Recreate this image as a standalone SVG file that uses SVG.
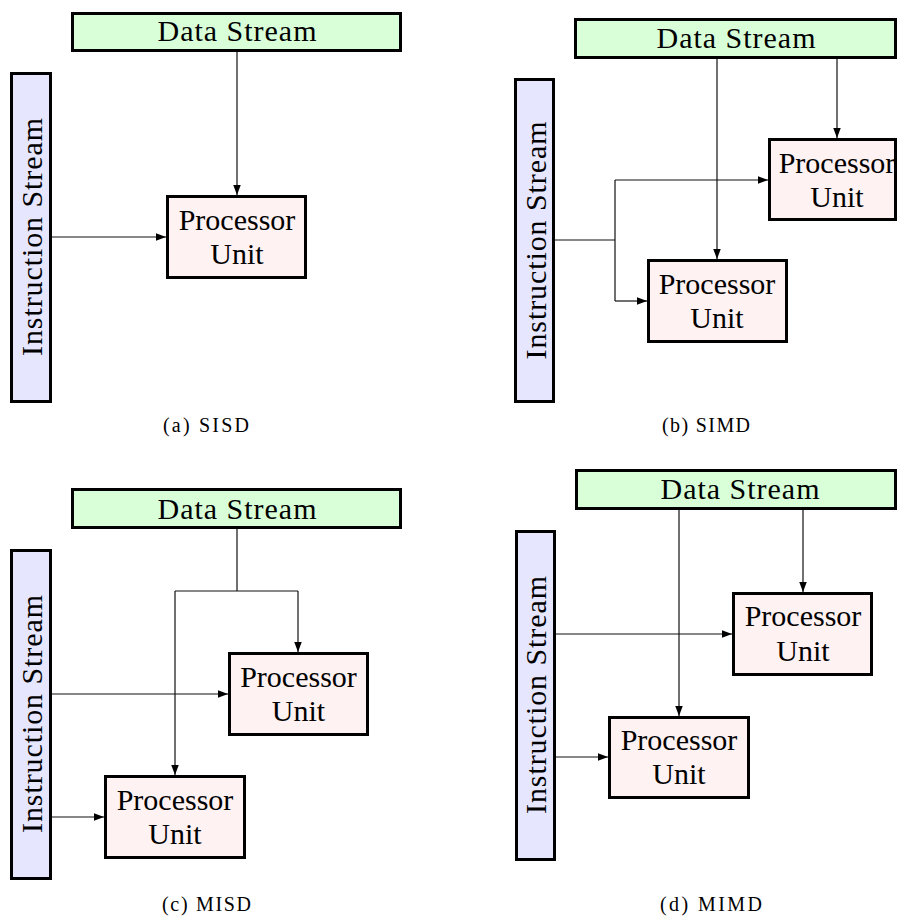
<svg xmlns="http://www.w3.org/2000/svg" width="897" height="918" viewBox="0 0 897 918">
<style>
text{font-family:"Liberation Serif","Times New Roman",serif;fill:#000}
.lbl{font-size:30px;text-anchor:middle}
.cap{font-size:20px;text-anchor:middle}
.data{fill:#d9ffd9;stroke:#000;stroke-width:3}
.instr{fill:#e6e6ff;stroke:#000;stroke-width:3}
.pu{fill:#fff2f2;stroke:#000;stroke-width:3}
.ln{fill:none;stroke:#111;stroke-width:1.2}
.ar{fill:none;stroke:#111;stroke-width:1.2;marker-end:url(#ah)}
</style>
<defs>
<marker id="ah" markerUnits="userSpaceOnUse" markerWidth="11" markerHeight="8" refX="10" refY="3.75" orient="auto">
<path d="M0,0 L10,3.75 L0,7.5 z" fill="#000"/>
</marker>
</defs>
<rect width="897" height="918" fill="#fff"/>

<!-- (a) SISD -->
<g id="a-data"><rect class="data" x="72.5" y="13.5" width="328" height="37"/><text class="lbl" x="237" y="41" textLength="159">Data Stream</text></g>
<g id="a-instr"><rect class="instr" x="11.5" y="73.5" width="39" height="328"/><text class="lbl" transform="translate(42,237) rotate(-90)" textLength="238">Instruction Stream</text></g>
<g id="a-pu"><rect class="pu" x="167.5" y="196.5" width="138" height="81"/><text class="lbl" x="237" y="230">Processor</text><text class="lbl" x="237" y="264">Unit</text></g>
<text id="a-cap" class="cap" x="206" y="432" textLength="86">(a) SISD</text>

<!-- (b) SIMD -->
<g id="b-data"><rect class="data" x="575.5" y="19.5" width="320" height="38"/><text class="lbl" x="736" y="48" textLength="159">Data Stream</text></g>
<g id="b-instr"><rect class="instr" x="515.5" y="79.5" width="38" height="322"/><text class="lbl" transform="translate(546,240.5) rotate(-90)" textLength="238">Instruction Stream</text></g>
<g id="b-pu1"><rect class="pu" x="769.5" y="139.5" width="126" height="80"/><text class="lbl" x="837" y="173">Processor</text><text class="lbl" x="837" y="207">Unit</text></g>
<g id="b-pu2"><rect class="pu" x="648.5" y="260.5" width="138" height="81"/><text class="lbl" x="717" y="294">Processor</text><text class="lbl" x="717" y="328">Unit</text></g>
<text id="b-cap" class="cap" x="706" y="432" textLength="88">(b) SIMD</text>

<!-- (c) MISD -->
<g id="c-data"><rect class="data" x="72.5" y="489.5" width="328" height="38"/><text class="lbl" x="237" y="519" textLength="159">Data Stream</text></g>
<g id="c-instr"><rect class="instr" x="11.5" y="550.5" width="39" height="328"/><text class="lbl" transform="translate(42,714) rotate(-90)" textLength="238">Instruction Stream</text></g>
<g id="c-pu1"><rect class="pu" x="229.5" y="653.5" width="138" height="81"/><text class="lbl" x="298.5" y="687">Processor</text><text class="lbl" x="298.5" y="721">Unit</text></g>
<g id="c-pu2"><rect class="pu" x="105.5" y="776.5" width="139" height="81"/><text class="lbl" x="175" y="810">Processor</text><text class="lbl" x="175" y="844">Unit</text></g>
<text id="c-cap" class="cap" x="206.5" y="911" textLength="89">(c) MISD</text>

<!-- (d) MIMD -->
<g id="d-data"><rect class="data" x="576.5" y="470.5" width="319" height="38"/><text class="lbl" x="740" y="499" textLength="159">Data Stream</text></g>
<g id="d-instr"><rect class="instr" x="516.5" y="531.5" width="38" height="328"/><text class="lbl" transform="translate(546,695) rotate(-90)" textLength="238">Instruction Stream</text></g>
<g id="d-pu1"><rect class="pu" x="733.5" y="593.5" width="138" height="81"/><text class="lbl" x="803" y="626">Processor</text><text class="lbl" x="803" y="661">Unit</text></g>
<g id="d-pu2"><rect class="pu" x="609.5" y="717.5" width="139" height="80"/><text class="lbl" x="679" y="750">Processor</text><text class="lbl" x="679" y="784">Unit</text></g>
<text id="d-cap" class="cap" x="711" y="911" textLength="102">(d) MIMD</text>

<g id="connectors">
<!-- a -->
<path class="ar" d="M237,52 V195"/>
<path class="ar" d="M52,237 H166"/>
<!-- b -->
<path class="ar" d="M717,59 V259"/>
<path class="ar" d="M837,59 V138"/>
<path class="ln" d="M555,240 H615 M615,180 V301"/>
<path class="ar" d="M615,180 H768"/>
<path class="ar" d="M615,301 H647"/>
<!-- c -->
<path class="ln" d="M237,529 V591 M175,591 H298"/>
<path class="ar" d="M298,591 V652"/>
<path class="ar" d="M175,591 V775"/>
<path class="ar" d="M52,694 H228"/>
<path class="ar" d="M52,817 H104"/>
<!-- d -->
<path class="ar" d="M679,510 V716"/>
<path class="ar" d="M803,510 V592"/>
<path class="ar" d="M556,634 H732"/>
<path class="ar" d="M556,757 H608"/>
</g>
</svg>
